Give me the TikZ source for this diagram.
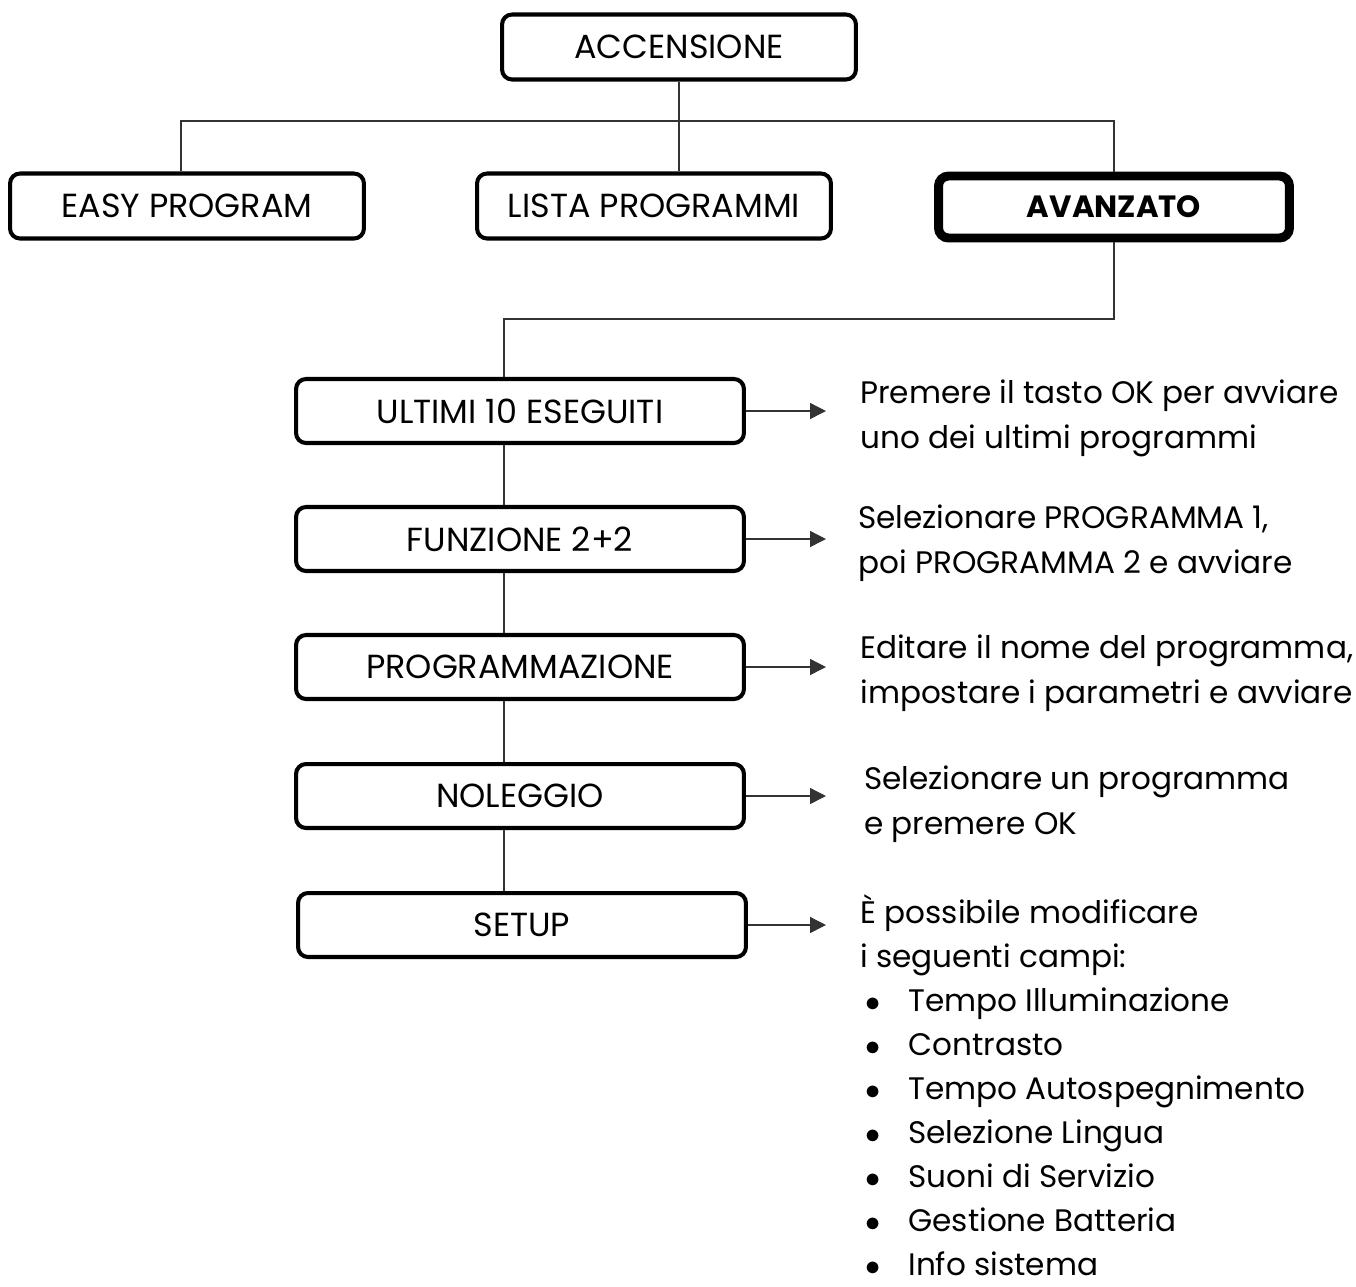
\documentclass[tikz,border=0pt]{standalone}
\usepackage{fontspec}
\setmainfont{Poppins}
\usetikzlibrary{arrows.meta}

\newcommand{\campo}[1]{\makebox[0.96cm][l]{\hspace{0.1cm}$\bullet$}#1}

\tikzset{
  menu/.style={draw, line width=2.3pt, rounded corners=0.2cm,
    minimum width=7.08cm, minimum height=1.3cm, inner sep=0pt,
    font=\fontsize{19}{22}\selectfont},
  wide/.style={menu, minimum width=8.96cm, minimum height=1.28cm},
  link/.style={draw=black!80, line width=0.8pt},
  pointer/.style={link, -{Triangle[length=0.32cm, width=0.32cm]}},
  note/.style={anchor=base west, align=left, inner sep=0pt,
    font=\fontsize{17.7}{25.6}\selectfont},
}

\begin{document}
\begin{tikzpicture}[x=0.02cm, y=-0.02cm]
  \useasboundingbox (0,0) rectangle (1356,1286);

  % top level
  \node (accensione) at (679,47) [menu] {ACCENSIONE};

  \node (easy) at (187,206) [menu] {EASY PROGRAM};

  \node (lista) at (654,206) [menu] {LISTA PROGRAMMI};

  \node (avanzato) at (1114,207) [menu, line width=5.1pt, minimum width=7.02cm,
    minimum height=1.24cm, font=\fontsize{17.5}{22}\selectfont\bfseries] {AVANZATO};

  % advanced menu
  \node (ultimi) at (520,411) [wide] {ULTIMI 10 ESEGUITI};

  \node (funzione) at (520,539) [wide] {FUNZIONE 2+2};

  \node (programmazione) at (520,667) [wide] {PROGRAMMAZIONE};

  \node (noleggio) at (520,796) [wide] {NOLEGGIO};

  \node (setup) at (522,925) [wide] {SETUP};

  % notes (placed at the baseline of their last line)
  \node (nota1) at (860,448) [note] {Premere il tasto OK per avviare\\uno dei ultimi programmi};

  \node (nota2) at (858,573) [note] {Selezionare PROGRAMMA 1,\\poi PROGRAMMA 2 e avviare};

  \node (nota3) at (860,703) [note] {Editare il nome del programma,\\impostare i parametri e avviare};

  \node (nota4) at (864,834) [note] {Selezionare un programma\\e premere OK};

  \node (nota5) at (860,1275) [note, font=\fontsize{17.7}{25}\selectfont] {È possibile modificare\\i seguenti campi:\\
    \campo{Tempo Illuminazione}\\\campo{Contrasto}\\\campo{Tempo Autospegnimento}\\
    \campo{Selezione Lingua}\\\campo{Suoni di Servizio}\\\campo{Gestione Batteria}\\
    \campo{Info sistema}};

  % connectors
  \coordinate (bar) at (181,121);
  \coordinate (spine) at (504,319);
  \coordinate (tipcol) at (826,0);

  \draw[link] (bar |- easy.north) -- (bar) -| (avanzato.north);
  \draw[link] (accensione.south) -- (accensione.south |- lista.north);

  \draw[link] (avanzato.south) |- (spine) -- (spine |- ultimi.north);
  \foreach \a/\b in {ultimi/funzione, funzione/programmazione,
      programmazione/noleggio, noleggio/setup}
    \draw[link] (spine |- \a.south) -- (spine |- \b.north);

  \foreach \b in {ultimi, funzione, programmazione, noleggio, setup}
    \draw[pointer] (\b.east) -- (\b.east -| tipcol);

\end{tikzpicture}
\end{document}
